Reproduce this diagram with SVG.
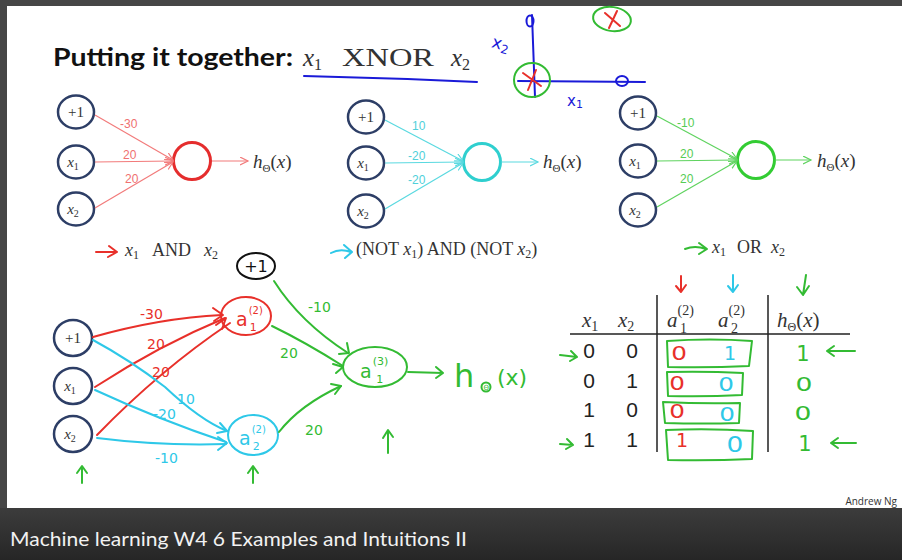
<svg xmlns="http://www.w3.org/2000/svg" width="902" height="560" viewBox="0 0 902 560">
<defs>
<linearGradient id="cap" x1="0" y1="0" x2="0" y2="1"><stop offset="0" stop-color="#3c3c3c"/><stop offset="1" stop-color="#262626"/></linearGradient>
<marker id="ar" markerUnits="userSpaceOnUse" markerWidth="10" markerHeight="10" refX="8" refY="4" orient="auto"><path d="M0,0 L8,4 L0,8" fill="none" stroke="#f27b7b" stroke-width="1.2"/></marker>
<marker id="ac" markerUnits="userSpaceOnUse" markerWidth="10" markerHeight="10" refX="8" refY="4" orient="auto"><path d="M0,0 L8,4 L0,8" fill="none" stroke="#5ad9e0" stroke-width="1.2"/></marker>
<marker id="ag" markerUnits="userSpaceOnUse" markerWidth="10" markerHeight="10" refX="8" refY="4" orient="auto"><path d="M0,0 L8,4 L0,8" fill="none" stroke="#5fd35f" stroke-width="1.2"/></marker>
</defs>
<style>
.in{fill:#fff;stroke:#2d3e66;stroke-width:2.5}
.lbl{font-family:"Liberation Serif",serif;font-size:15px;fill:#333}
.it{font-style:italic}
.math{font-family:"Liberation Serif",serif;fill:#333}
.w{font-family:"Liberation Sans",sans-serif;font-size:12px}
.hw{fill:none;stroke-linecap:round;stroke-linejoin:round;stroke-width:2}
.hwt{font-family:"DejaVu Sans",sans-serif}
.red{stroke:#e8302a}.cy{stroke:#2ec8e8}.gr{stroke:#33bb33}.bl{stroke:#1a1ad8}.bk{stroke:#111}
.num{font-family:"Liberation Sans",sans-serif;font-size:21px;fill:#222}
.slr{fill:none;stroke:#f27b7b;stroke-width:1.2}
.slc{fill:none;stroke:#5ad9e0;stroke-width:1.2}
.slg{fill:none;stroke:#5fd35f;stroke-width:1.2}
</style>

<!-- frame -->
<rect x="0" y="0" width="902" height="560" fill="#464646"/>
<rect x="7" y="6" width="895" height="502" fill="#fff"/>
<rect x="0" y="508" width="902" height="52" fill="url(#cap)"/>
<text x="10" y="546" font-family="Lato,'Noto Sans',sans-serif" font-size="20" fill="#f2f2f2" textLength="457" lengthAdjust="spacingAndGlyphs">Machine learning W4 6 Examples and Intuitions II</text>
<text x="897" y="505" text-anchor="end" font-family="'Open Sans',sans-serif" font-size="10" fill="#333">Andrew Ng</text>

<!-- title -->
<g id="title">
<text x="53" y="66" font-family="Lato,'Open Sans',sans-serif" font-weight="bold" font-size="24" fill="#111" textLength="240" lengthAdjust="spacingAndGlyphs">Putting it together:</text>
<text y="66" class="math" font-size="25" fill="#222"><tspan x="303" font-style="italic">x</tspan><tspan font-size="16" dy="4">1</tspan><tspan x="342" dy="-4" textLength="92" lengthAdjust="spacingAndGlyphs">XNOR</tspan><tspan x="451" font-style="italic">x</tspan><tspan font-size="16" dy="4">2</tspan></text>
<path d="M304,76 Q390,78 477,82" class="hw bl" stroke-width="1.5"/>
</g>

<!-- top-right sketch -->
<g id="sketch-axes">
<path d="M532,15 L535,97" class="hw bl"/>
<path d="M518,81 L645,82" class="hw bl"/>
<ellipse cx="530" cy="21" rx="3.5" ry="5.5" class="hw bl"/>
<ellipse cx="622" cy="81" rx="6" ry="5" class="hw bl"/>
<text x="492" y="50" class="hwt" font-size="17" fill="#1a1ad8" transform="rotate(15 503 44)">x<tspan font-size="12" dy="3">2</tspan></text>
<text x="567" y="106" class="hwt" font-size="15" fill="#1a1ad8">x<tspan font-size="11" dy="2">1</tspan></text>
<ellipse cx="532" cy="80" rx="18" ry="17" class="hw gr"/>
<path d="M523,73 L541,86 M536,70 L528,90" class="hw red"/>
<ellipse cx="612" cy="19" rx="19" ry="12" class="hw gr" transform="rotate(8 612 19)"/>
<path d="M605,13 L620,26 M617,11 L609,28" class="hw red"/>
</g>

<!-- Network 1: AND -->
<g id="and-net">
<g id="and-bias"><ellipse cx="76" cy="112" rx="18" ry="16.5" class="in"/><text x="76" y="117" text-anchor="middle" class="lbl">+1</text></g>
<g id="and-x1"><ellipse cx="76" cy="162" rx="18" ry="16.5" class="in"/><text x="73" y="167" text-anchor="middle" class="lbl"><tspan class="it">x</tspan><tspan font-size="10" dy="3">1</tspan></text></g>
<g id="and-x2"><ellipse cx="76" cy="209" rx="18" ry="16.5" class="in"/><text x="73" y="214" text-anchor="middle" class="lbl"><tspan class="it">x</tspan><tspan font-size="10" dy="3">2</tspan></text></g>
<g id="and-out"><circle cx="192" cy="161" r="18.5" fill="#fff" stroke="#e52d2d" stroke-width="3"/></g>
<g id="and-edges">
<path d="M95,115 L173,160" class="slr" marker-end="url(#ar)"/>
<path d="M95,162 L173,161" class="slr" marker-end="url(#ar)"/>
<path d="M95,208 L173,162" class="slr" marker-end="url(#ar)"/>
<path d="M212,161 L248,161" class="slr" marker-end="url(#ar)"/>
<text x="120" y="128" class="w" fill="#f07070">-30</text>
<text x="123" y="159" class="w" fill="#f07070">20</text>
<text x="125" y="183" class="w" fill="#f07070">20</text>
</g>
<text x="253" y="168" class="math" font-size="19"><tspan class="it">h</tspan><tspan font-size="11" dy="4">Θ</tspan><tspan dy="-4">(</tspan><tspan class="it">x</tspan>)</text>
<path d="M96,252 L116,252 M109,246 L117,252 L108,257" class="hw red"/>
<text y="256" class="math" font-size="18" fill="#e84040"><tspan x="125" class="it">x</tspan><tspan font-size="12" dy="3">1</tspan><tspan x="152" dy="-3">AND</tspan><tspan x="204" class="it">x</tspan><tspan font-size="12" dy="3">2</tspan></text>
</g>

<!-- Network 2: NOT AND NOT -->
<g id="nor-net">
<g id="nor-bias"><ellipse cx="366" cy="117" rx="18" ry="16.5" class="in"/><text x="366" y="122" text-anchor="middle" class="lbl">+1</text></g>
<g id="nor-x1"><ellipse cx="366" cy="163" rx="18" ry="16.5" class="in"/><text x="363" y="168" text-anchor="middle" class="lbl"><tspan class="it">x</tspan><tspan font-size="10" dy="3">1</tspan></text></g>
<g id="nor-x2"><ellipse cx="366" cy="211" rx="18" ry="16.5" class="in"/><text x="363" y="216" text-anchor="middle" class="lbl"><tspan class="it">x</tspan><tspan font-size="10" dy="3">2</tspan></text></g>
<g id="nor-out"><circle cx="482" cy="162" r="18.5" fill="#fff" stroke="#2fcfcf" stroke-width="3"/></g>
<g id="nor-edges">
<path d="M385,120 L463,161" class="slc" marker-end="url(#ac)"/>
<path d="M385,163 L463,162" class="slc" marker-end="url(#ac)"/>
<path d="M385,209 L463,163" class="slc" marker-end="url(#ac)"/>
<path d="M501,162 L538,162" class="slc" marker-end="url(#ac)"/>
<text x="412" y="130" class="w" fill="#4fd0da">10</text>
<text x="408" y="160" class="w" fill="#4fd0da">-20</text>
<text x="408" y="184" class="w" fill="#4fd0da">-20</text>
</g>
<text x="543" y="168" class="math" font-size="19"><tspan class="it">h</tspan><tspan font-size="11" dy="4">Θ</tspan><tspan dy="-4">(</tspan><tspan class="it">x</tspan>)</text>
<path d="M331,253 Q340,248 351,252 M344,245 L352,252 L345,258" class="hw cy"/>
<text y="255" class="math" font-size="18" fill="#3cc8d4"><tspan x="356">(NOT </tspan><tspan class="it">x</tspan><tspan font-size="12" dy="3">1</tspan><tspan dy="-3">) AND (NOT </tspan><tspan class="it">x</tspan><tspan font-size="12" dy="3">2</tspan><tspan dy="-3">)</tspan></text>
</g>

<!-- Network 3: OR -->
<g id="or-net">
<g id="or-bias"><ellipse cx="638" cy="113" rx="18" ry="16.5" class="in"/><text x="638" y="118" text-anchor="middle" class="lbl">+1</text></g>
<g id="or-x1"><ellipse cx="638" cy="161" rx="18" ry="16.5" class="in"/><text x="635" y="166" text-anchor="middle" class="lbl"><tspan class="it">x</tspan><tspan font-size="10" dy="3">1</tspan></text></g>
<g id="or-x2"><ellipse cx="638" cy="210" rx="18" ry="16.5" class="in"/><text x="635" y="215" text-anchor="middle" class="lbl"><tspan class="it">x</tspan><tspan font-size="10" dy="3">2</tspan></text></g>
<g id="or-out"><circle cx="756" cy="160" r="18.5" fill="#fff" stroke="#33cc33" stroke-width="3"/></g>
<g id="or-edges">
<path d="M657,116 L737,159" class="slg" marker-end="url(#ag)"/>
<path d="M657,161 L737,160" class="slg" marker-end="url(#ag)"/>
<path d="M657,207 L737,161" class="slg" marker-end="url(#ag)"/>
<path d="M775,160 L811,160" class="slg" marker-end="url(#ag)"/>
<text x="677" y="127" class="w" fill="#55cc55">-10</text>
<text x="680" y="158" class="w" fill="#55cc55">20</text>
<text x="680" y="183" class="w" fill="#55cc55">20</text>
</g>
<text x="817" y="167" class="math" font-size="19"><tspan class="it">h</tspan><tspan font-size="11" dy="4">Θ</tspan><tspan dy="-4">(</tspan><tspan class="it">x</tspan>)</text>
<path d="M685,249 Q695,245 706,249 M699,243 L707,249 L699,254" class="hw gr"/>
<text y="253" class="math" font-size="18" fill="#44c044"><tspan x="712" class="it">x</tspan><tspan font-size="12" dy="3">1</tspan><tspan x="737" dy="-3">OR</tspan><tspan x="771" class="it">x</tspan><tspan font-size="12" dy="3">2</tspan></text>
</g>

<!-- Bottom XNOR network -->
<g id="xnor-net">
<g id="xn-bias"><ellipse cx="73" cy="338" rx="19" ry="18" class="in"/><text x="73" y="343" text-anchor="middle" class="lbl">+1</text></g>
<g id="xn-x1"><ellipse cx="73" cy="386" rx="19" ry="18" class="in"/><text x="70" y="391" text-anchor="middle" class="lbl"><tspan class="it">x</tspan><tspan font-size="10" dy="3">1</tspan></text></g>
<g id="xn-x2"><ellipse cx="73" cy="434" rx="19" ry="18" class="in"/><text x="70" y="439" text-anchor="middle" class="lbl"><tspan class="it">x</tspan><tspan font-size="10" dy="3">2</tspan></text></g>
<g id="xn-bias2"><ellipse cx="256" cy="266" rx="19" ry="13" class="hw bk"/><text x="256" y="272" text-anchor="middle" class="hwt" font-size="16" fill="#111">+1</text></g>
<g id="xn-a1"><ellipse cx="246" cy="316" rx="25" ry="19" class="hw red"/><text x="236" y="326" class="hwt" font-size="19" fill="#e8302a">a<tspan font-size="10" dx="1" dy="-12">(2)</tspan><tspan font-size="11" dx="-13" dy="17">1</tspan></text></g>
<g id="xn-a2"><ellipse cx="253" cy="435" rx="25" ry="20" class="hw cy"/><text x="239" y="445" class="hwt" font-size="19" fill="#2ec8e8">a<tspan font-size="10" dx="1" dy="-12">(2)</tspan><tspan font-size="11" dx="-13" dy="17">2</tspan></text></g>
<g id="xn-a3"><ellipse cx="375" cy="367" rx="32" ry="20" class="hw gr"/><text x="360" y="378" class="hwt" font-size="19" fill="#33bb33">a<tspan font-size="11" dx="1" dy="-13">(3)</tspan><tspan font-size="11" dx="-12" dy="18">1</tspan></text></g>
<g id="xn-connectors">
<path d="M93,337 Q160,318 222,315" class="hw red"/>
<path d="M95,387 Q160,345 225,318" class="hw red"/>
<path d="M97,435 Q160,370 230,323" class="hw red"/>
<path d="M213,308 L223,315 L214,321 M216,325 L226,318 L222,329" class="hw red"/>
<path d="M93,340 Q130,360 165,387 Q200,420 227,431" class="hw cy"/>
<path d="M95,390 Q160,420 226,442" class="hw cy"/>
<path d="M97,438 Q160,446 226,444" class="hw cy"/>
<path d="M220,423 L227,431 L217,433 M218,437 L227,443 L218,450" class="hw cy"/>
<path d="M274,281 Q300,322 348,353" class="hw gr"/>
<path d="M272,326 Q305,342 343,366" class="hw gr"/>
<path d="M279,432 Q300,405 341,386" class="hw gr"/>
<path d="M347,343 L349,353 L339,354 M333,364 L343,367 L336,373 M331,384 L341,386 L335,394" class="hw gr"/>
<path d="M408,372 L443,373 M436,367 L443,373 L436,378" class="hw gr"/>
<g class="hwt" font-size="14">
<text x="140" y="319" fill="#e8302a">-30</text>
<text x="147" y="349" fill="#e8302a">20</text>
<text x="152" y="377" fill="#e8302a">20</text>
<text x="177" y="404" fill="#2ec8e8">10</text>
<text x="153" y="419" fill="#2ec8e8">-20</text>
<text x="155" y="463" fill="#2ec8e8">-10</text>
<text x="308" y="312" fill="#33bb33">-10</text>
<text x="280" y="358" fill="#33bb33">20</text>
<text x="305" y="435" fill="#33bb33">20</text>
</g>
</g>
<text x="454" y="387" class="hwt" font-size="32" fill="#33bb33">h</text>
<circle cx="486" cy="387" r="4.5" class="hw gr" stroke-width="1.5"/>
<text x="483.5" y="389.5" class="hwt" font-size="7" fill="#33bb33">Θ</text>
<text x="497" y="385" class="hwt" font-size="22" fill="#33bb33">(x)</text>
<path d="M82,483 L82,467 M77,473 L82,466 L87,473" class="hw gr"/>
<path d="M253,483 L253,467 M248,473 L253,466 L258,473" class="hw gr"/>
<path d="M388,453 L388,431 M383,438 L388,430 L393,437" class="hw gr"/>
</g>

<!-- Truth table -->
<g id="table">
<path d="M657,295 L657,452 M768,295 L768,452 M570,334 L850,334" fill="none" stroke="#222" stroke-width="1.5"/>
<text y="327" class="math" font-size="21" fill="#222"><tspan x="582" class="it">x</tspan><tspan font-size="14" dy="4">1</tspan><tspan x="618" dy="-4" class="it">x</tspan><tspan font-size="14" dy="4">2</tspan></text>
<text y="327" class="math" font-size="21" fill="#222"><tspan x="667" class="it">a</tspan><tspan font-size="14" dy="-12">(2)</tspan><tspan x="680" font-size="14" dy="18">1</tspan></text>
<text y="327" class="math" font-size="21" fill="#222"><tspan x="718" class="it">a</tspan><tspan font-size="14" dy="-12">(2)</tspan><tspan x="731" font-size="14" dy="18">2</tspan></text>
<text x="777" y="327" class="math" font-size="21" fill="#222"><tspan class="it">h</tspan><tspan font-size="12" dy="4">Θ</tspan><tspan dy="-4">(</tspan><tspan class="it">x</tspan>)</text>
<g class="num" text-anchor="middle">
<text x="589" y="358">0</text><text x="632" y="358">0</text>
<text x="589" y="388">0</text><text x="632" y="388">1</text>
<text x="589" y="417">1</text><text x="632" y="417">0</text>
<text x="589" y="447">1</text><text x="632" y="447">1</text>
</g>
<path d="M667,341 Q710,338 752,341 L749,366 Q708,368 668,367 Z" class="hw gr"/>
<path d="M667,372 Q705,371 743,373 L742,395 Q705,397 668,396 Z" class="hw gr"/>
<path d="M663,402 Q702,404 740,403 L739,423 Q702,424 665,423 Z" class="hw gr"/>
<path d="M666,430 Q710,428 753,431 L752,459 Q710,461 668,460 Z" class="hw gr"/>
<g class="hwt" font-size="19" text-anchor="middle">
<text x="679" y="360" fill="#e8302a" transform="translate(679 0) scale(1.3 1) translate(-679 0)">0</text>
<text x="677" y="390" fill="#e8302a" transform="translate(677 0) scale(1.3 1) translate(-677 0)">0</text>
<text x="677" y="418" fill="#e8302a" transform="translate(677 0) scale(1.3 1) translate(-677 0)">0</text>
<text x="682" y="447" fill="#e8302a">1</text>
<text x="730" y="360" fill="#2ec8e8">1</text>
<text x="726" y="391" fill="#2ec8e8" transform="translate(726 0) scale(1.3 1) translate(-726 0)">0</text>
<text x="727" y="421" fill="#2ec8e8" transform="translate(727 0) scale(1.3 1) translate(-727 0)">0</text>
<text x="735" y="452" fill="#2ec8e8" font-size="22" transform="translate(735 0) scale(1.2 1) translate(-735 0)">0</text>
<text x="803" y="361" fill="#33bb33" font-size="21">1</text>
<text x="804" y="391" fill="#33bb33" transform="translate(804 0) scale(1.4 1) translate(-804 0)">0</text>
<text x="803" y="420" fill="#33bb33" transform="translate(803 0) scale(1.4 1) translate(-803 0)">0</text>
<text x="805" y="451" fill="#33bb33" font-size="21">1</text>
</g>
<path d="M855,351 L827,351 M834,346 L827,351 L834,356" class="hw gr"/>
<path d="M856,443 L831,443 M838,438 L831,443 L838,448" class="hw gr"/>
<path d="M560,355 L577,357 M571,351 L577,357 L570,361" class="hw gr"/>
<path d="M560,444 L573,445 M567,439 L573,445 L566,449" class="hw gr"/>
<path d="M681,276 L681,292 M676,286 L681,292 L686,285" class="hw red" stroke-width="1.6"/>
<path d="M733,275 L733,292 M728,286 L733,292 L738,285" class="hw cy" stroke-width="1.6"/>
<path d="M806,275 L803,295 M797,287 L803,295 L809,286" class="hw gr"/>
</g>
</svg>
